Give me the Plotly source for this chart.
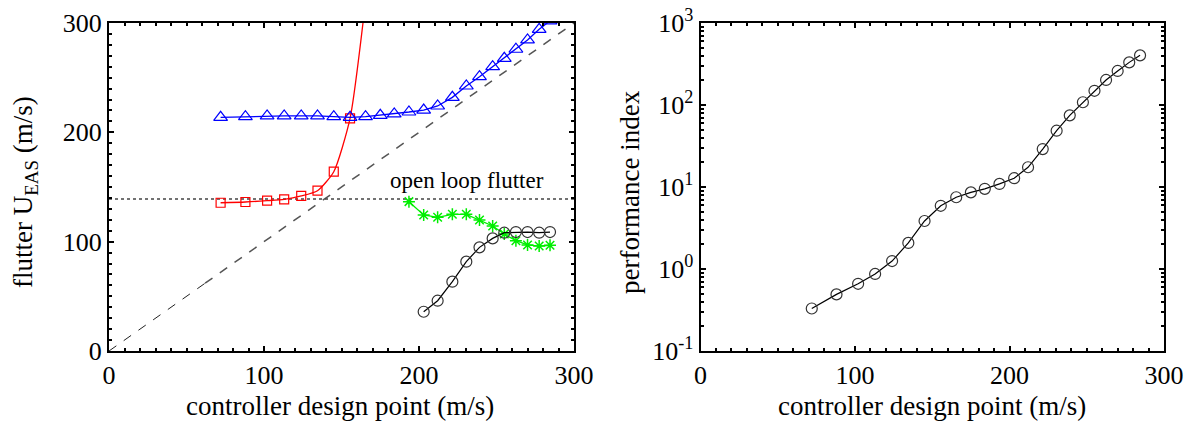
import plotly.graph_objects as go

# design points (m/s)
design_x = [72, 88, 102, 113, 124, 134.5, 145, 155.5, 165.5, 175, 184, 193.5,
            203, 212, 221.5, 230.5, 239, 247.5, 255, 262.5, 270, 277.5, 284.5]

red_y = [135.6, 136.3, 137.5, 138.7, 141.8, 146.6, 164, 212.8, 320]
blue_y = [213.7, 214.3, 215, 215, 215, 215, 214.3, 213.7, 214.3, 215.6, 216.8, 218.6,
          220.4, 224.1, 232, 242.4, 250.9, 260.1, 267.7, 276, 284.5, 294.2, 302]
green_y = [136.6, 124.4, 122.3, 125, 125, 119.8, 114.3, 107, 100.9, 97, 96, 96.7]
black_y = [35.9, 46, 63.4, 81.7, 94.8, 103, 108.2, 108.8, 108.8, 108.2, 108.8]

perf_index = [0.33, 0.49, 0.66, 0.87, 1.25, 2.08, 3.85, 5.9, 7.5, 8.6, 9.5, 10.9,
              12.8, 17.4, 29, 48.6, 74.8, 108, 149, 202, 260, 331, 403]

open_loop_flutter = 139
diag_low = [0, 62]
diag_high = [62, 300]

x_ticks = [0, 100, 200, 300]
y_ticks_left = [0, 100, 200, 300]
y_ticks_right = [0.1, 1, 10, 100, 1000]
y_ticktext_right = ["10<sup>-1</sup>", "10<sup>0</sup>", "10<sup>1</sup>",
                    "10<sup>2</sup>", "10<sup>3</sup>"]

FONT = "Liberation Serif, Times New Roman, serif"

fig = go.Figure()

# reference lines
fig.add_trace(go.Scatter(x=diag_low, y=diag_low, mode="lines",
                         line=dict(color="#222222", width=1, dash="dash"),
                         xaxis="x", yaxis="y", showlegend=False))
fig.add_trace(go.Scatter(x=diag_high, y=diag_high, mode="lines",
                         line=dict(color="#555555", width=1.5, dash="dash"),
                         xaxis="x", yaxis="y", showlegend=False))
fig.add_trace(go.Scatter(x=[0, 300], y=[open_loop_flutter] * 2, mode="lines",
                         line=dict(color="#444444", width=1.5, dash="dot"),
                         xaxis="x", yaxis="y", showlegend=False))

# series
fig.add_trace(go.Scatter(x=design_x[:len(red_y)], y=red_y, mode="lines+markers",
                         line=dict(color="#ff0000", width=1.3, shape="spline", smoothing=0.6),
                         marker=dict(symbol="square-open", size=9, color="#ff0000",
                                     line=dict(width=1.2)),
                         xaxis="x", yaxis="y", showlegend=False))
fig.add_trace(go.Scatter(x=design_x, y=blue_y, mode="lines+markers",
                         line=dict(color="#0000ff", width=1.3),
                         marker=dict(symbol="triangle-up-open", size=12, color="#0000ff",
                                     line=dict(width=1.2)),
                         xaxis="x", yaxis="y", showlegend=False))
fig.add_trace(go.Scatter(x=design_x[-len(green_y):], y=green_y, mode="lines+markers",
                         line=dict(color="#00ee00", width=1.3),
                         marker=dict(symbol="asterisk-open", size=10, color="#00ee00",
                                     line=dict(width=1.5, color="#00ee00")),
                         xaxis="x", yaxis="y", showlegend=False))
fig.add_trace(go.Scatter(x=design_x[-len(black_y):], y=black_y, mode="lines+markers",
                         line=dict(color="#000000", width=1.2),
                         marker=dict(symbol="circle-open", size=11, color="#333333",
                                     line=dict(width=1.2)),
                         xaxis="x", yaxis="y", showlegend=False))

# right panel
fig.add_trace(go.Scatter(x=design_x, y=perf_index, mode="lines+markers",
                         line=dict(color="#000000", width=1.2),
                         marker=dict(symbol="circle-open", size=11, color="#333333",
                                     line=dict(width=1.2)),
                         xaxis="x2", yaxis="y2", showlegend=False))

axis_common = dict(
    showline=True, linecolor="black", linewidth=2, mirror="allticks",
    ticks="inside", ticklen=5, tickwidth=1.5, tickcolor="black",
    showgrid=False, zeroline=False, automargin=False, ticklabeloverflow="allow",
    tickfont=dict(family=FONT, size=26, color="black"),
)

fig.update_layout(
    width=1193, height=431,
    margin=dict(l=109, r=29, t=23, b=80, autoexpand=False),
    plot_bgcolor="white", paper_bgcolor="white",
    font=dict(family=FONT, color="black"),
    xaxis=dict(domain=[0, 0.4408], range=[0, 300], tickvals=x_ticks,
               minor=dict(ticks="inside", dtick=10, ticklen=3, tickcolor="black"),
               anchor="y", **axis_common),
    yaxis=dict(domain=[0, 1], range=[0, 300], tickvals=y_ticks_left,
               minor=dict(ticks="inside", dtick=10, ticklen=3, tickcolor="black"),
               anchor="x", **axis_common),
    xaxis2=dict(domain=[0.5607, 1], range=[0, 300], tickvals=x_ticks,
                minor=dict(ticks="inside", dtick=10, ticklen=3, tickcolor="black"),
                anchor="y2", **axis_common),
    yaxis2=dict(domain=[0, 1], type="log", range=[-1, 3], tickvals=y_ticks_right,
                ticktext=y_ticktext_right,
                minor=dict(ticks="inside", dtick="D1", ticklen=3, tickcolor="black"),
                anchor="x2", **axis_common),
)

ann_font = dict(family=FONT, size=27, color="black")
fig.add_annotation(text="open loop flutter", x=231, y=156, xref="x", yref="y",
                   showarrow=False, font=dict(family=FONT, size=23, color="black"))
fig.add_annotation(text="controller design point (m/s)", x=0.219, y=-0.168,
                   xref="paper", yref="paper", showarrow=False, font=ann_font,
                   xanchor="center", yanchor="middle")
fig.add_annotation(text="controller design point (m/s)", x=0.780, y=-0.168,
                   xref="paper", yref="paper", showarrow=False, font=ann_font,
                   xanchor="center", yanchor="middle")
fig.add_annotation(text="flutter U<sub>EAS</sub> (m/s)", x=-0.0796, y=0.485,
                   xref="paper", yref="paper", showarrow=False, font=ann_font,
                   textangle=-90, xanchor="center", yanchor="middle")
fig.add_annotation(text="performance index", x=0.4938, y=0.485,
                   xref="paper", yref="paper", showarrow=False, font=ann_font,
                   textangle=-90, xanchor="center", yanchor="middle")

# remove the page's default body margin so the figure fills the window exactly
fig.write_html("out.html", config={"displayModeBar": False},
               post_script="document.body.style.margin='0';document.body.style.overflow='hidden';")
